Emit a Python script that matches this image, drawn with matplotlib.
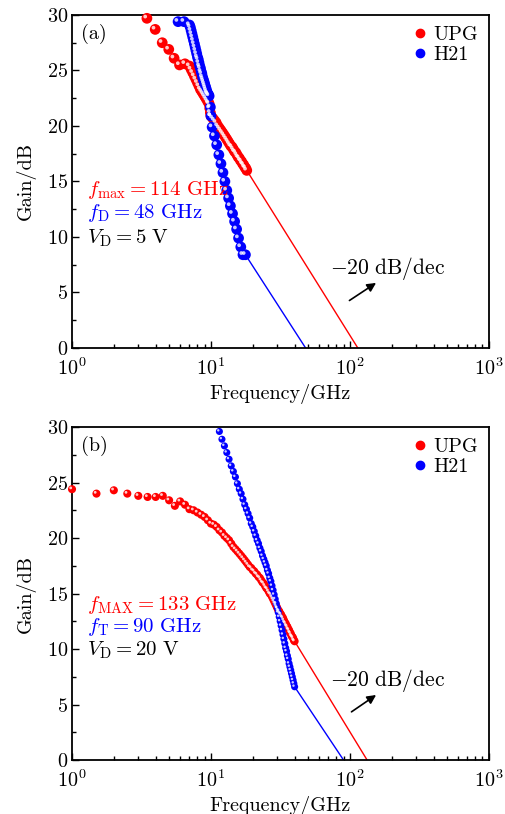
import matplotlib
matplotlib.use('agg')
from matplotlib import pyplot as plt
from matplotlib.lines import Line2D
from matplotlib.ticker import MultipleLocator, LogLocator, NullFormatter
from matplotlib.transforms import offset_copy

plt.rcParams['font.family'] = 'serif'
plt.rcParams['font.serif'] = ['cmr10']
plt.rcParams['mathtext.fontset'] = 'cm'
plt.rcParams['axes.formatter.use_mathtext'] = True

RED = '#ff0000'
BLUE = '#0000ff'

# ---- panel (a): VD = 5 V ----
a_upg_f = [3.46, 3.97, 4.46, 4.97, 5.43, 5.94, 6.5, 7.0,
           7.2, 7.4, 7.6, 7.8, 8.0, 8.2, 8.4, 8.6, 8.8, 9.0, 9.2, 9.4, 9.6,
           9.7, 9.8, 9.9,
           10.0, 10.3, 10.6, 10.9, 11.2, 11.5, 11.8, 12.1, 12.4, 12.7, 13.0,
           13.3, 13.6, 13.9, 14.2, 14.5, 14.8, 15.1, 15.4, 15.7, 16.0, 16.3,
           16.6, 16.9, 17.2, 17.5, 17.8, 18.1]
a_upg_g = [29.7, 28.7, 27.5, 26.9, 26.1, 25.5, 25.6, 25.4,
           25.1, 24.8, 24.5, 24.2, 23.9, 23.6, 23.3, 23.1, 22.9, 22.7, 22.5, 22.3, 22.1,
           22.0, 21.6, 21.2,
           20.9, 20.7, 20.5, 20.3, 20.0, 19.8, 19.6, 19.4, 19.2, 19.0, 18.8,
           18.6, 18.4, 18.2, 18.1, 17.9, 17.7, 17.6, 17.4, 17.2, 17.1, 16.9,
           16.8, 16.6, 16.5, 16.3, 16.2, 16.0]

a_h21_f = [5.8, 6.4, 7.0,
           7.1, 7.2, 7.3, 7.4, 7.5, 7.6, 7.7, 7.8, 7.9, 8.0, 8.1, 8.2, 8.3,
           8.4, 8.5, 8.6, 8.7, 8.8, 8.9, 9.0, 9.1, 9.2, 9.3, 9.4, 9.5, 9.6, 9.7,
           9.9, 10.0, 10.2, 10.6, 11.0, 11.4, 11.8, 12.2, 12.6, 13.0, 13.4,
           13.8, 14.3, 14.8, 15.3, 15.8, 16.4, 17.0, 17.7]
a_h21_g = [29.4, 29.4, 29.1,
           28.9, 28.6, 28.3, 28.0, 27.7, 27.4, 27.1, 26.8, 26.5, 26.2, 26.0, 25.7, 25.4,
           25.2, 24.9, 24.7, 24.4, 24.2, 24.0, 23.8, 23.6, 23.4, 23.2, 23.0, 22.9, 22.8, 22.7,
           21.7, 20.9, 19.9, 19.1, 18.3, 17.4, 16.6, 15.8, 15.0, 14.2, 13.5,
           12.8, 12.1, 11.4, 10.7, 9.9, 9.1, 8.4, 8.4]

a_fit_upg_f = [18.1, 114]
a_fit_upg_g = [16.0, 0]
a_fit_h21_f = [17.7, 48]
a_fit_h21_g = [8.4, 0]

# ---- panel (b): VD = 20 V ----
b_upg_f = [1.0, 1.5, 2.0, 2.5, 3.0, 3.5, 4.0, 4.5, 5.0, 5.5, 6.0, 6.5,
           7.0, 7.5, 8.0, 8.5, 9.0, 9.5, 10.0, 10.5, 11.0, 11.5, 12.0, 12.5,
           13.0, 13.5, 14.0, 14.5, 15.0, 15.5, 16.0, 16.5, 17.0, 17.5, 18.0,
           18.5, 19.0, 19.5, 20.0, 20.5, 21.0, 21.5, 22.0, 22.5, 23.0, 23.5,
           24.0, 24.5, 25.0, 25.5, 26.0, 26.5, 27.0, 27.5, 28.0, 28.5, 29.0,
           29.5, 30.0, 30.5, 31.0, 31.5, 32.0, 32.5, 33.0, 33.5, 34.0, 34.5,
           35.0, 35.5, 36.0, 36.5, 37.0, 37.5, 38.0, 38.5, 39.0, 39.5, 40.0]
b_upg_g = [24.4, 24.0, 24.3, 24.0, 23.8, 23.7, 23.7, 23.8, 23.4, 22.9, 23.3, 23.0,
           22.6, 22.5, 22.3, 22.1, 21.9, 21.6, 21.3, 21.2, 21.0, 20.7, 20.5, 20.2,
           20.0, 19.8, 19.5, 19.2, 19.0, 18.8, 18.6, 18.4, 18.2, 18.0, 17.8,
           17.6, 17.4, 17.3, 17.1, 17.0, 16.8, 16.7, 16.5, 16.4, 16.2, 16.0,
           15.9, 15.7, 15.5, 15.4, 15.2, 15.0, 14.9, 14.7, 14.5, 14.3, 14.1,
           13.9, 13.7, 13.5, 13.4, 13.2, 13.1, 12.9, 12.8, 12.6, 12.4, 12.3,
           12.1, 12.0, 11.8, 11.7, 11.5, 11.4, 11.2, 11.1, 11.0, 10.8, 10.7]

b_h21_f = [11.5, 12.0, 12.5, 13.0, 13.5, 14.0, 14.5, 15.0, 15.5, 16.0, 16.5,
           17.0, 17.5, 18.0, 18.5, 19.0, 19.5, 20.0, 20.5, 21.0, 21.5, 22.0,
           22.5, 23.0, 23.5, 24.0, 24.5, 25.0, 25.5, 26.0, 26.5, 27.0, 27.5,
           28.0, 28.5, 29.0, 29.5, 30.0, 30.5, 31.0, 31.5, 32.0, 32.5, 33.0,
           33.5, 34.0, 34.5, 35.0, 35.5, 36.0, 36.5, 37.0, 37.5, 38.0, 38.5,
           39.0, 39.5, 40.0]
b_h21_g = [29.6, 28.9, 28.3, 27.7, 27.1, 26.5, 26.0, 25.5, 24.9, 24.4, 24.0,
           23.5, 23.0, 22.6, 22.2, 21.8, 21.3, 21.0, 20.6, 20.2, 19.8, 19.5,
           19.1, 18.8, 18.4, 18.1, 17.8, 17.5, 17.1, 16.8, 16.4, 16.1, 15.7,
           15.3, 14.9, 14.5, 14.1, 13.7, 13.3, 12.9, 12.5, 12.1, 11.7, 11.3,
           10.9, 10.5, 10.1, 9.8, 9.4, 9.1, 8.7, 8.4, 8.1, 7.8, 7.5,
           7.2, 6.9, 6.6]

b_fit_upg_f = [40.0, 133]
b_fit_upg_g = [10.7, 0]
b_fit_h21_f = [40.0, 90]
b_fit_h21_g = [6.6, 0]

FS = 14.5


def balls(ax, f, g, color, size):
    # shaded "sphere" markers: coloured disc + off-centre white highlight
    ax.scatter(f, g, s=size, color=color, edgecolors='none', zorder=3, clip_on=False)
    d = size ** 0.5
    hl = offset_copy(ax.transData, fig=ax.figure, x=-0.16 * d, y=0.16 * d, units='points')
    ax.scatter(f, g, s=size * 0.12, color='white', alpha=0.8, edgecolors='none',
               zorder=4, transform=hl, clip_on=False)


def style_axes(ax):
    ax.set_xscale('log')
    ax.set_xlim(1, 1000)
    ax.set_ylim(0, 30)
    ax.yaxis.set_major_locator(MultipleLocator(5))
    ax.yaxis.set_minor_locator(MultipleLocator(2.5))
    ax.xaxis.set_major_locator(LogLocator(base=10))
    ax.xaxis.set_minor_locator(LogLocator(base=10, subs=range(2, 10)))
    ax.xaxis.set_minor_formatter(NullFormatter())
    ax.tick_params(which='both', direction='in', top=False, right=False, labelsize=FS)
    ax.tick_params(which='major', length=5, width=1)
    ax.tick_params(which='minor', length=3, width=1)
    ax.tick_params(axis='x', pad=7)
    ax.tick_params(axis='y', pad=3)
    for sp in ax.spines.values():
        sp.set_linewidth(1.3)
    ax.set_xlabel('Frequency/GHz', fontsize=FS, labelpad=3)
    ax.set_ylabel('Gain/dB', fontsize=FS, labelpad=8)
    handles = [Line2D([], [], ls='none', marker='o', ms=6, mfc=RED, mec=RED),
               Line2D([], [], ls='none', marker='o', ms=6, mfc=BLUE, mec=BLUE)]
    ax.legend(handles, ['UPG', 'H21'], loc='upper right', frameon=False,
              fontsize=FS, handlelength=0.6, handletextpad=0.35,
              labelspacing=0.1, borderaxespad=0.15)


fig = plt.figure(figsize=(5.05, 8.14), dpi=100)
ax1 = fig.add_axes([0.1426, 0.5725, 0.8254, 0.4091])
ax2 = fig.add_axes([0.1426, 0.0663, 0.8254, 0.4091])

# panel (a)
ax1.plot(a_fit_upg_f, a_fit_upg_g, color=RED, lw=1, zorder=2)
ax1.plot(a_fit_h21_f, a_fit_h21_g, color=BLUE, lw=1, zorder=2)
balls(ax1, a_upg_f, a_upg_g, RED, 60)
balls(ax1, a_h21_f, a_h21_g, BLUE, 60)
style_axes(ax1)
ax1.text(0.022, 0.972, '(a)', transform=ax1.transAxes, fontsize=FS, va='top')
ax1.text(0.035, 0.475, r'$f_{\mathrm{max}} = 114\ \mathrm{GHz}$', transform=ax1.transAxes,
         color=RED, fontsize=15, va='center')
ax1.text(0.035, 0.405, r'$f_{\mathrm{D}} = 48\ \mathrm{GHz}$', transform=ax1.transAxes,
         color=BLUE, fontsize=15, va='center')
ax1.text(0.035, 0.33, r'$V_{\mathrm{D}} = 5\ \mathrm{V}$', transform=ax1.transAxes,
         color='black', fontsize=15, va='center')
ax1.text(0.618, 0.24, r'$-20\ \mathrm{dB/dec}$', transform=ax1.transAxes, fontsize=15.5, va='center')
ax1.annotate('', xy=(0.735, 0.2), xytext=(0.66, 0.138), xycoords='axes fraction',
             arrowprops=dict(arrowstyle='-|>', color='black', lw=1.2, mutation_scale=13))

# panel (b)
ax2.plot(b_fit_upg_f, b_fit_upg_g, color=RED, lw=1, zorder=2)
ax2.plot(b_fit_h21_f, b_fit_h21_g, color=BLUE, lw=1, zorder=2)
balls(ax2, b_upg_f, b_upg_g, RED, 34)
balls(ax2, b_h21_f, b_h21_g, BLUE, 26)
style_axes(ax2)
ax2.text(0.022, 0.972, '(b)', transform=ax2.transAxes, fontsize=FS, va='top')
ax2.text(0.035, 0.465, r'$f_{\mathrm{MAX}} = 133\ \mathrm{GHz}$', transform=ax2.transAxes,
         color=RED, fontsize=15, va='center')
ax2.text(0.035, 0.40, r'$f_{\mathrm{T}} = 90\ \mathrm{GHz}$', transform=ax2.transAxes,
         color=BLUE, fontsize=15, va='center')
ax2.text(0.035, 0.33, r'$V_{\mathrm{D}} = 20\ \mathrm{V}$', transform=ax2.transAxes,
         color='black', fontsize=15, va='center')
ax2.text(0.618, 0.24, r'$-20\ \mathrm{dB/dec}$', transform=ax2.transAxes, fontsize=15.5, va='center')
ax2.annotate('', xy=(0.735, 0.2), xytext=(0.665, 0.14), xycoords='axes fraction',
             arrowprops=dict(arrowstyle='-|>', color='black', lw=1.2, mutation_scale=13))

fig.savefig('out.png', dpi=100, facecolor='white')
